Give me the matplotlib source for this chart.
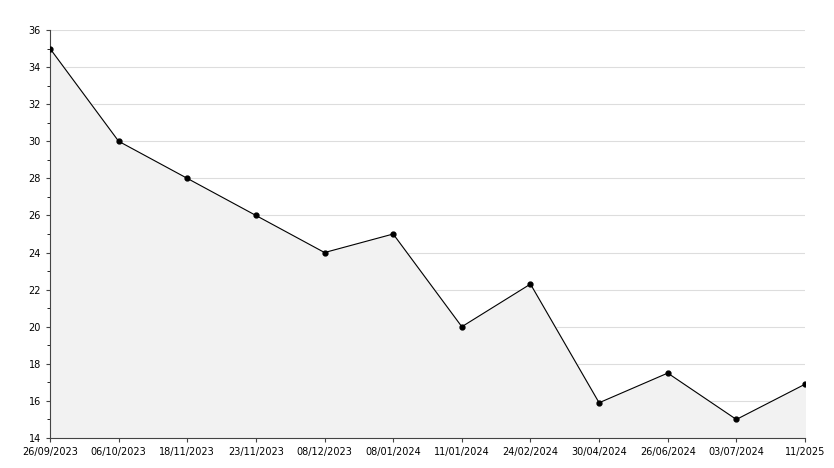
import matplotlib
matplotlib.use("Agg")
import matplotlib.pyplot as plt
from matplotlib.ticker import MultipleLocator

dates = ["26/09/2023", "06/10/2023", "18/11/2023", "23/11/2023", "08/12/2023", "08/01/2024",
         "11/01/2024", "24/02/2024", "30/04/2024", "26/06/2024", "03/07/2024", "11/2025"]
values = [35, 30, 28, 26, 24, 25, 20, 22.3, 15.9, 17.5, 15, 16.9]

x = list(range(len(values)))

fig = plt.figure(figsize=(8.34, 4.68), dpi=100)
ax = fig.add_axes([50 / 834, 30 / 468, 755 / 834, 408 / 468])

ax.fill_between(x, values, 14, color="#f2f2f2", zorder=1)
ax.plot(x, values, color="black", linewidth=0.8, marker="o", markersize=3.5, zorder=3)

ax.set_xlim(0, len(values) - 1)
ax.set_ylim(14, 36)
ax.yaxis.set_major_locator(MultipleLocator(2))
ax.yaxis.set_minor_locator(MultipleLocator(1))
ax.grid(axis="y", which="major", color="#dddddd", linewidth=0.8, zorder=0)
ax.set_axisbelow(True)

ax.set_xticks(x)
ax.set_xticklabels(dates)
ax.tick_params(labelsize=7, length=3, color="#444444")
ax.tick_params(which="minor", length=2)

for s in ["top", "right"]:
    ax.spines[s].set_visible(False)
for s in ["left", "bottom"]:
    ax.spines[s].set_color("#444444")

fig.savefig("out.png", dpi=100)
